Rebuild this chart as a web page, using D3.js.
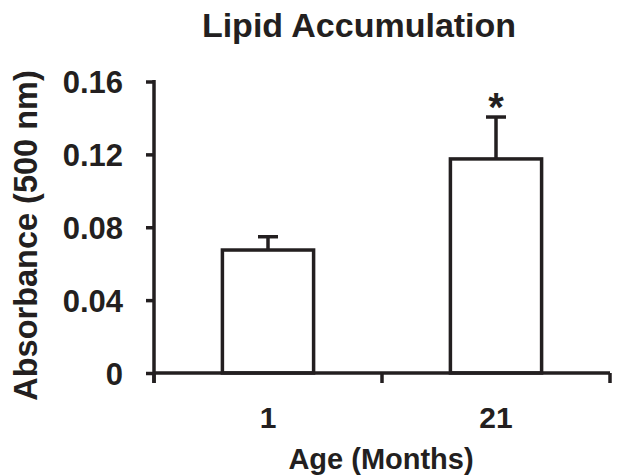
<!DOCTYPE html>
<html><head><meta charset="utf-8">
<script src="https://cdn.jsdelivr.net/npm/d3@7"></script>
<style>
html,body{margin:0;padding:0;background:#fff;}
text{font-family:"Liberation Sans",Arial,sans-serif;font-weight:bold;fill:#231f20;}
</style></head>
<body>
<svg id="chart" width="618" height="476"></svg>
<script>
const categories = ["1", "21"];
const values = [0.0675, 0.1175];
const errors = [0.0073, 0.0230];
const significance = ["", "*"];
const yTicks = [0, 0.04, 0.08, 0.12, 0.16];
const yTickLabels = ["0", "0.04", "0.08", "0.12", "0.16"];
const title = "Lipid Accumulation";
const xTitle = "Age (Months)";
const yTitle = "Absorbance (500 nm)";

const ink = "#231f20";
const sw = 3.5;
const svg = d3.select("#chart");
const m = {left:154, right:8, top:81.5, bottom:103};
const W = 618, H = 476;
const x = d3.scaleBand().domain(categories).range([m.left, W - m.right]).paddingInner(0.6).paddingOuter(0.3);
const y = d3.scaleLinear().domain([0, 0.16]).range([H - m.bottom, m.top]);

// title
svg.append("text").attr("x", 359).attr("y", 37).attr("text-anchor","middle")
  .attr("font-size", 34).text(title);

// bars
const g = svg.append("g");
g.selectAll("rect.bar").data(categories).join("rect")
  .attr("x", d => x(d)).attr("width", x.bandwidth())
  .attr("y", (d,i) => y(values[i])).attr("height", (d,i) => y(0) - y(values[i]))
  .attr("fill","#fff").attr("stroke", ink).attr("stroke-width", sw);

// error bars
categories.forEach((c,i) => {
  const cx = x(c) + x.bandwidth()/2;
  g.append("line").attr("x1",cx).attr("x2",cx).attr("y1",y(values[i])).attr("y2",y(values[i]+errors[i]))
    .attr("stroke",ink).attr("stroke-width",sw);
  g.append("line").attr("x1",cx-10).attr("x2",cx+10).attr("y1",y(values[i]+errors[i])).attr("y2",y(values[i]+errors[i]))
    .attr("stroke",ink).attr("stroke-width",sw);
  if (significance[i]) {
    g.append("text").attr("x",cx).attr("y", y(values[i]+errors[i]) - 25 + 0.716*40)
      .attr("text-anchor","middle").attr("font-size",40).text(significance[i]);
  }
});

// y axis
const yAxis = d3.axisLeft(y).tickValues(yTicks).tickFormat((d,i) => yTickLabels[i])
  .tickSize(8).tickPadding(23).tickSizeOuter(0);
const ya = svg.append("g").attr("transform",`translate(${m.left},0)`).call(yAxis);
ya.select(".domain").remove();
ya.selectAll(".tick line").attr("stroke",ink).attr("stroke-width",sw);
ya.selectAll(".tick text").attr("font-size",31).attr("font-family","Liberation Sans, Arial, sans-serif")
  .attr("font-weight","bold").attr("fill",ink).attr("dy","0.36em");
svg.append("line").attr("x1",m.left).attr("x2",m.left).attr("y1",y(0.16)-1.5).attr("y2",y(0)+10)
  .attr("stroke",ink).attr("stroke-width",sw);

// x axis
const xa = svg.append("g").attr("transform",`translate(0,${y(0)})`)
  .call(d3.axisBottom(x).tickSize(0).tickPadding(34));
xa.select(".domain").remove();
xa.selectAll(".tick text").attr("font-size",30).attr("font-family","Liberation Sans, Arial, sans-serif")
  .attr("font-weight","bold").attr("fill",ink);
svg.append("line").attr("x1",m.left).attr("x2",W-m.right).attr("y1",y(0)).attr("y2",y(0))
  .attr("stroke",ink).attr("stroke-width",sw);
// boundary ticks between bands
const bounds = [x.range()[0], (x(categories[0]) + x.bandwidth() + x(categories[1]))/2, x.range()[1]];
svg.selectAll("line.xt").data(bounds).join("line").attr("class","xt")
  .attr("x1",d=>d).attr("x2",d=>d).attr("y1",y(0)).attr("y2",y(0)+10)
  .attr("stroke",ink).attr("stroke-width",sw);

// axis titles
svg.append("text").attr("x",381).attr("y",469).attr("text-anchor","middle").attr("font-size",29).text(xTitle);
svg.append("text").attr("transform","translate(37,235.5) rotate(-90)").attr("text-anchor","middle")
  .attr("font-size",32.5).text(yTitle);
</script>
</body></html>
